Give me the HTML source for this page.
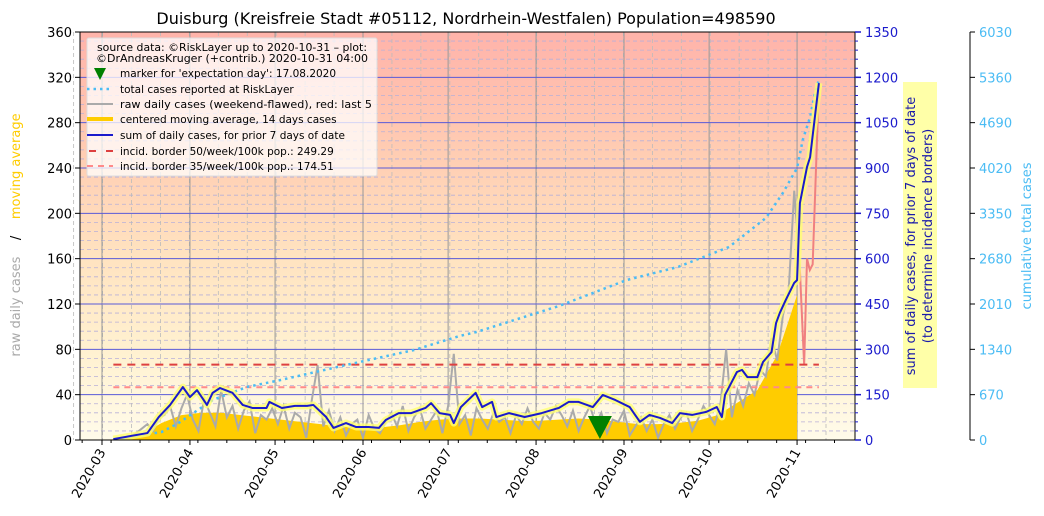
<!DOCTYPE html>
<html><head><meta charset="utf-8"><style>
body{margin:0;background:#fff}
svg{display:block;font-family:"DejaVu Sans","Liberation Sans",sans-serif}
</style></head><body>
<svg id="chart" width="1044" height="516" viewBox="0 0 1044 516">
<defs>
<linearGradient id="bg" x1="0" y1="0" x2="0" y2="1">
<stop offset="0" stop-color="#ffb3aa"/><stop offset="0.3" stop-color="#ffcdb3"/>
<stop offset="0.55" stop-color="#ffe3c0"/><stop offset="0.8" stop-color="#fff2d2"/>
<stop offset="1" stop-color="#fffbea"/></linearGradient>
<clipPath id="clip"><rect x="80" y="32" width="775" height="408"/></clipPath>
</defs>
<rect x="80" y="32" width="775" height="408" fill="url(#bg)"/>
<g id="grid"></g>
<g id="series" clip-path="url(#clip)"></g>
<rect x="80" y="32" width="775" height="408" fill="none" stroke="#000" stroke-width="1"/>
<g id="axes"></g>
<text x="466" y="24" font-size="16" text-anchor="middle">Duisburg (Kreisfreie Stadt #05112, Nordrhein-Westfalen) Population=498590</text>
<g>
<rect x="87" y="38" width="290" height="138" fill="#fff" fill-opacity="0.75" stroke="#ddd" rx="2"/>
<g font-size="10.5">
<text x="232" y="51" text-anchor="middle" textLength="270" lengthAdjust="spacingAndGlyphs">source data: ©RiskLayer up to 2020-10-31 – plot:</text>
<text x="232" y="62" text-anchor="middle" textLength="272" lengthAdjust="spacingAndGlyphs">©DrAndreasKruger (+contrib.) 2020-10-31 04:00</text>
<polygon points="94,68 106,68 100,80" fill="#008000"/>
<text x="120" y="77">marker for 'expectation day': 17.08.2020</text>
<line x1="87" y1="89" x2="113" y2="89" stroke="#4bbcf4" stroke-width="2.5" stroke-dasharray="2.5 4"/>
<text x="120" y="93">total cases reported at RiskLayer</text>
<line x1="87" y1="104" x2="113" y2="104" stroke="#aaa" stroke-width="2"/>
<text x="120" y="108" textLength="252" lengthAdjust="spacingAndGlyphs">raw daily cases (weekend-flawed), red: last 5</text>
<line x1="87" y1="119" x2="113" y2="119" stroke="#ffcc00" stroke-width="4"/>
<text x="120" y="123">centered moving average, 14 days cases</text>
<line x1="87" y1="135" x2="113" y2="135" stroke="#1a1acc" stroke-width="2"/>
<text x="120" y="139">sum of daily cases, for prior 7 days of date</text>
<line x1="89" y1="151" x2="113" y2="151" stroke="#dd4040" stroke-width="2" stroke-dasharray="7 10"/>
<text x="120" y="155">incid. border 50/week/100k pop.: 249.29</text>
<line x1="87" y1="166" x2="113" y2="166" stroke="#ff8a8a" stroke-width="2" stroke-dasharray="6 5"/>
<text x="120" y="170">incid. border 35/week/100k pop.: 174.51</text>
</g></g>
<rect x="903" y="82" width="34" height="306" fill="#ffffa8"/>
<text transform="translate(915,236) rotate(-90)" font-size="13" fill="#1a1aaa" text-anchor="middle">sum of daily cases, for prior 7 days of date</text>
<text transform="translate(932,236) rotate(-90)" font-size="13" fill="#1a1aaa" text-anchor="middle">(to determine incidence borders)</text>
<text transform="translate(1031,236) rotate(-90)" font-size="13" fill="#4bbcf4" text-anchor="middle">cumulative total cases</text>
<text transform="translate(20,235) rotate(-90)" font-size="13" text-anchor="middle" xml:space="preserve"><tspan fill="#aaa">raw daily cases</tspan><tspan fill="#000">    /    </tspan><tspan fill="#ffcc00">moving average</tspan></text>
</svg>
<script>
const monthLabels=["2020-03","2020-04","2020-05","2020-06","2020-07","2020-08","2020-09","2020-10","2020-11"];
const monthDays=[0,31,61,92,122,153,184,214,245];
const leftTicks=[0,40,80,120,160,200,240,280,320,360];
const right1Ticks=[0,150,300,450,600,750,900,1050,1200,1350];
const right2Ticks=[0,670,1340,2010,2680,3350,4020,4690,5360,6030];
const sumDays=[4,16,20,24,28.5,31,33.5,37,39,41.6,46,49.6,53,58,59,63.4,68,72.3,74.5,79,81.6,86,89.6,94,97.6,100,104.6,109,114,116,119,122.7,124,126.5,131.7,134,137.5,139,143.5,149,155,161,164.5,168,173,176.5,181,186,189.6,193,196.7,201,203.7,208,213,216.7,218.5,219.6,223.8,225.6,227.5,231,233,236,237.6,238.9,241,244,245,246,248.5,249.6,252.7];
const sumValues=[3,23,76,116,175,142,165,116,156,172,156,116,106,106,126,106,113,113,116,76,40,56,43,43,40,66,89,89,106,122,89,83,56,109,156,109,126,76,89,76,89,106,126,126,109,149,132,109,60,83,73,56,89,83,93,109,76,149,225,232,208,208,258,291,387,420,463,520,529,784,903,936,1181];
const maDays=[0,7,14,21,28,35,42,49,56,63,70,77,84,91,98,105,112,119,126,133,140,147,154,161,168,175,182,189,196,203,210,217,224,231,238,242,245];
const maValues=[0,1,5,15,22,24,24,22,20,18,16,14,12,11,11,13,16,18,19,19,18,17,17,18,19,18,16,14,14,15,17,22,33,44,75,105,128];
const rawStart=4, rawStep=2;
const rawValues=[0,0,1,3,6,10,14,8,20,22,30,12,28,40,18,8,36,24,12,44,20,30,10,26,34,6,22,18,28,14,30,10,24,20,2,36,66,12,26,8,20,4,14,18,2,22,10,6,16,24,12,30,8,20,28,10,18,26,6,30,76,14,22,4,28,18,10,24,16,20,6,22,14,28,16,10,24,18,30,22,12,26,8,20,30,14,24,6,18,16,26,4,12,20,8,18,2,14,22,10,20,24,8,18,30,22,14,32,80,20,44,30,50,40,62,56,90,70,110,130,220,150];
const redDays=[246,247.5,248.5,249.5,250.5,252.7];
const redValues=[150,66,160,150,155,313];
const cumDays=[5,10,21,27,39,51,63,86,110,126,132,161,185,203,221,234,240,245,247,249.6,251,252.7];
const cumValues=[0,44,118,251,591,783,887,1108,1330,1537,1596,1980,2365,2557,2852,3281,3651,4021,4434,4774,5069,5330];
const incid50=249.29, incid35=174.51, expectDay=175.5;

const NS="http://www.w3.org/2000/svg";
const X=d=>102+d*2.837;
const YL=v=>440-v*408/360;
const Y1=v=>440-v*408/1350;
const Y2=v=>440-v*408/6030;
function mk(tag,attrs,parent,text){const e=document.createElementNS(NS,tag);for(const k in attrs)e.setAttribute(k,attrs[k]);if(text!==undefined)e.textContent=text;parent.appendChild(e);return e;}
const grid=document.getElementById('grid'),ser=document.getElementById('series'),ax=document.getElementById('axes');
for(let v=0;v<=360;v+=8){if(v%40===0)continue;const l=mk('line',{x1:80,x2:855,y1:YL(v),y2:YL(v),stroke:'#b8b0d8','stroke-width':0.8,'stroke-dasharray':'4 3'},grid);

}
for(let d=-10;d<=265;d+=10.2){const l=mk('line',{x1:X(d),x2:X(d),y1:32,y2:440,stroke:'#bbb','stroke-width':0.8,'stroke-dasharray':'4 3'},grid);

}
monthDays.forEach(d=>{const l=mk('line',{x1:X(d),x2:X(d),y1:32,y2:440,stroke:'#999','stroke-width':1},grid);

});
leftTicks.forEach(v=>{const l=mk('line',{x1:80,x2:855,y1:YL(v),y2:YL(v),stroke:'#5a5ad8','stroke-width':1},grid);

});
let p=`M${X(maDays[0])},440 `+maDays.map((d,i)=>`L${X(d)},${YL(maValues[i])}`).join(' ')+` L${X(maDays[maDays.length-1])},440Z`;
const ma=mk('path',{d:p,fill:'#ffcc00'},ser);


const rawPts=rawValues.map((v,i)=>`${X(rawStart+i*rawStep)},${YL(v)}`).join(' ');
const raw=mk('polyline',{points:rawPts,fill:'none',stroke:'#aaa','stroke-width':2},ser);


const red=mk('polyline',{points:redDays.map((d,i)=>`${X(d)},${YL(redValues[i])}`).join(' '),fill:'none',stroke:'#f08080','stroke-width':2},ser);


const i50=mk('line',{x1:X(4),x2:X(252.7),y1:Y1(incid50),y2:Y1(incid50),stroke:'#dd4040','stroke-width':2,'stroke-dasharray':'8 6'},ser);


const i35=mk('line',{x1:X(4),x2:X(252.7),y1:Y1(incid35),y2:Y1(incid35),stroke:'#ff8a8a','stroke-width':2,'stroke-dasharray':'6 5'},ser);


const cum=mk('polyline',{points:cumDays.map((d,i)=>`${X(d)},${Y2(cumValues[i])}`).join(' '),fill:'none',stroke:'#4bbcf4','stroke-width':2.5,'stroke-dasharray':'2.5 4'},ser);


const sp=sumDays.map((d,i)=>`${X(d)},${Y1(sumValues[i])}`).join(' ');
const glow=mk('polyline',{points:sp,fill:'none',stroke:'#ffff70','stroke-opacity':0.8,'stroke-width':7,'stroke-linejoin':'round'},ser);


const s7=mk('polyline',{points:sp,fill:'none',stroke:'#1a1acc','stroke-width':2,'stroke-linejoin':'round'},ser);


const mx=X(expectDay);
const mark=mk('polygon',{points:`${mx-12},416 ${mx+12},416 ${mx},439`,fill:'#008000'},ser);


monthDays.forEach((d,i)=>{const x=X(d);
const t=mk('line',{x1:x,x2:x,y1:440,y2:445,stroke:'#000'},ax);


const lb=mk('text',{x:x+4,y:452,'font-size':13,'text-anchor':'end',transform:`rotate(-60 ${x+4} 452)`},ax,monthLabels[i]);

});
for(let d=-7;d<=262;d+=10.2){mk('line',{x1:X(d),x2:X(d),y1:440,y2:443,stroke:'#000'},ax);}
leftTicks.forEach(v=>{mk('line',{x1:75,x2:80,y1:YL(v),y2:YL(v),stroke:'#000'},ax);
const lb=mk('text',{x:72,y:YL(v)+5,'font-size':13,'text-anchor':'end'},ax,String(v));

});
right1Ticks.forEach(v=>{mk('line',{x1:855,x2:861,y1:Y1(v),y2:Y1(v),stroke:'#1a1acc','stroke-width':1.5},ax);
const lb=mk('text',{x:865,y:Y1(v)+5,'font-size':13,fill:'#1a1acc'},ax,String(v));

});
for(let v=0;v<=1350;v+=30){mk('line',{x1:855,x2:858,y1:Y1(v),y2:Y1(v),stroke:'#1a1acc'},ax);}
mk('line',{x1:970,x2:970,y1:32,y2:440,stroke:'#000'},ax);
right2Ticks.forEach(v=>{mk('line',{x1:970,x2:975,y1:Y2(v),y2:Y2(v),stroke:'#000'},ax);
const lb=mk('text',{x:979,y:Y2(v)+5,'font-size':13,fill:'#4bbcf4'},ax,String(v));

});
</script>
</body></html>
